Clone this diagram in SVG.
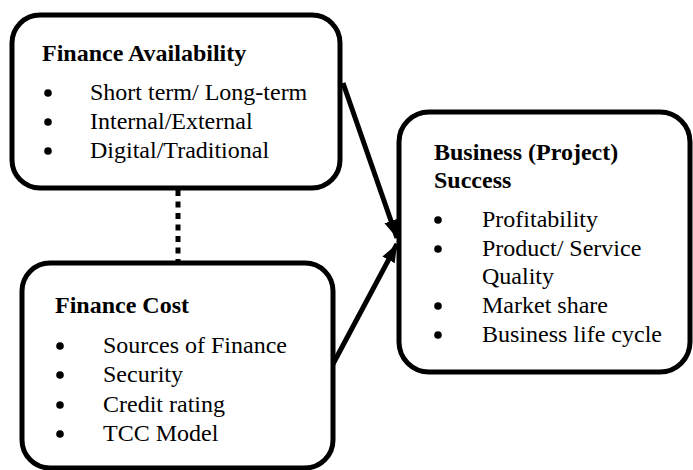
<svg xmlns="http://www.w3.org/2000/svg" width="693" height="470" viewBox="0 0 693 470">
<style>
.box{fill:#fff;stroke:#000;stroke-width:5}
.t{font-family:'Liberation Serif','Times New Roman',serif;font-size:24px;fill:#000}
.h{font-weight:bold}
.conn{stroke:#000;stroke-width:5;fill:none}
</style>
<defs>
<marker id="arr" markerUnits="userSpaceOnUse" markerWidth="20" markerHeight="20" viewBox="0 0 20 20" refX="18" refY="10" orient="auto">
<path d="M0,3 L18,10 L0,17 Z" fill="#000"/>
</marker>
</defs>
<g id="connectors">
<line class="conn" x1="178" y1="190" x2="178" y2="262" stroke-dasharray="6 5.5" stroke-width="6"/>
<line class="conn" x1="343" y1="83" x2="397" y2="238" marker-end="url(#arr)"/>
<line class="conn" x1="333" y1="364" x2="397" y2="244" marker-end="url(#arr)"/>
</g>
<g id="finance-availability">
<rect class="box" x="12" y="15" width="328" height="173" rx="28"/>
<text class="t h" x="42" y="61">Finance Availability</text>
<circle cx="48" cy="93" r="3.8"/>
<circle cx="48" cy="122" r="3.8"/>
<circle cx="48" cy="151" r="3.8"/>
<text class="t" x="90" y="100">Short term/ Long-term</text>
<text class="t" x="90" y="129">Internal/External</text>
<text class="t" x="90" y="158">Digital/Traditional</text>
</g>
<g id="finance-cost">
<rect class="box" x="22" y="263" width="311" height="205" rx="28"/>
<text class="t h" x="55" y="313">Finance Cost</text>
<circle cx="60" cy="346" r="3.8"/>
<circle cx="60" cy="375" r="3.8"/>
<circle cx="60" cy="405" r="3.8"/>
<circle cx="60" cy="434" r="3.8"/>
<text class="t" x="103" y="353">Sources of Finance</text>
<text class="t" x="103" y="382">Security</text>
<text class="t" x="103" y="412">Credit rating</text>
<text class="t" x="103" y="441">TCC Model</text>
</g>
<g id="business-success">
<rect class="box" x="399" y="112" width="291" height="260" rx="30"/>
<text class="t h" x="434" y="160">Business (Project)</text>
<text class="t h" x="434" y="188">Success</text>
<circle cx="438" cy="220" r="3.8"/>
<circle cx="438" cy="249" r="3.8"/>
<circle cx="438" cy="306" r="3.8"/>
<circle cx="438" cy="335" r="3.8"/>
<text class="t" x="482" y="227">Profitability</text>
<text class="t" x="482" y="256">Product/ Service</text>
<text class="t" x="482" y="284">Quality</text>
<text class="t" x="482" y="313">Market share</text>
<text class="t" x="482" y="342">Business life cycle</text>
</g>
</svg>
